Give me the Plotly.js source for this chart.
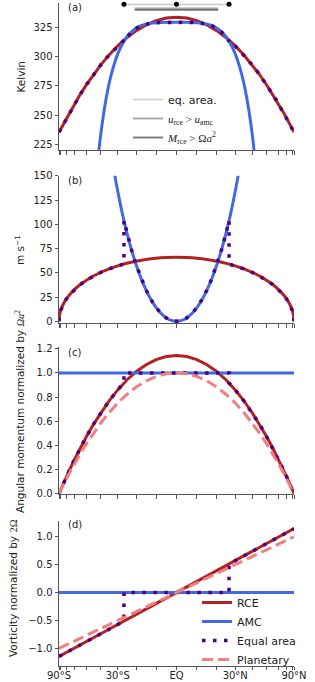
<!DOCTYPE html>
<html><head><meta charset="utf-8">
<script src="https://cdn.plot.ly/plotly-3.0.1.min.js"></script>
<style>html,body{margin:0;padding:0;background:#fff}#chart{width:315px;height:682px}</style>
</head><body><div id="chart"></div>
<script>
// ---------- data (latitudes in degrees; x axis is sin(latitude)) ----------
const latRce = [-90,-85,-80,-75,-70,-65,-60,-55,-50,-45,-40,-35,-30,-25,-20,-15,-10,-5,0,5,10,15,20,25,30,35,40,45,50,55,60,65,70,75,80,85,90];
const tempRce = [235.4,236.1,238.4,242.0,246.9,253.0,260.0,267.8,276.1,284.7,293.3,301.6,309.4,316.4,322.5,327.4,331.0,333.3,334.0,333.3,331.0,327.4,322.5,316.4,309.4,301.6,293.3,284.7,276.1,267.8,260.0,253.0,246.9,242.0,238.4,236.1,235.4];
const windRce = [0,5.8,11.5,17.1,22.6,27.9,33.0,37.9,42.4,46.7,50.6,54.1,57.2,59.8,62.0,63.8,65.0,65.7,66.0,65.7,65.0,63.8,62.0,59.8,57.2,54.1,50.6,46.7,42.4,37.9,33.0,27.9,22.6,17.1,11.5,5.8,0];
const angMomRce = [0,0.009,0.035,0.077,0.134,0.205,0.286,0.377,0.473,0.573,0.672,0.768,0.859,0.941,1.011,1.068,1.110,1.136,1.145,1.136,1.110,1.068,1.011,0.941,0.859,0.768,0.672,0.573,0.473,0.377,0.286,0.205,0.134,0.077,0.035,0.009,0];
const angMomPlanetary = [0,0.008,0.030,0.067,0.117,0.179,0.250,0.329,0.413,0.500,0.587,0.671,0.750,0.821,0.883,0.933,0.970,0.992,1.000,0.992,0.970,0.933,0.883,0.821,0.750,0.671,0.587,0.500,0.413,0.329,0.250,0.179,0.117,0.067,0.030,0.008,0];

const latAmcT = [-42,-41,-40,-37.5,-35,-32.5,-30,-27.5,-25,-22.5,-20,-17.5,-15,-12.5,-10,-5,0,5,10,12.5,15,17.5,20,22.5,25,27.5,30,32.5,35,37.5,40,41,42];
const tempAmc = [211.4,223.7,234.9,258.5,277.1,291.4,302.5,310.8,317.0,321.4,324.6,326.7,328.0,328.9,329.3,329.6,329.6,329.6,329.3,328.9,328.0,326.7,324.6,321.4,317.0,310.8,302.5,291.4,277.1,258.5,234.9,223.7,211.4];

const latAmcU = [-35,-32.5,-30,-27.5,-25,-22.5,-20,-17.5,-15,-12.5,-10,-7.5,-5,-2.5,0,2.5,5,7.5,10,12.5,15,17.5,20,22.5,25,27.5,30,32.5,35];
const windAmc = [186.5,159.0,134.1,111.6,91.5,73.6,57.8,44.0,32.2,22.3,14.2,8.0,3.5,0.9,0,0.9,3.5,8.0,14.2,22.3,32.2,44.0,57.8,73.6,91.5,111.6,134.1,159.0,186.5];

const latAmcFlat = [-90,90];
const angMomAmc = [1,1];
const vortAmc = [0,0];

const latEqT = [-90,-85,-80,-75,-70,-65,-60,-55,-50,-45,-40,-35,-30,-26.57,-26.57,-25,-22.5,-20,-17.5,-15,-12.5,-10,-5,0,5,10,12.5,15,17.5,20,22.5,25,26.57,26.57,30,35,40,45,50,55,60,65,70,75,80,85,90];
const tempEq = [235.4,236.1,238.4,242.0,246.9,253.0,260.0,267.8,276.1,284.7,293.3,301.6,309.4,314.3,313.3,317.0,321.4,324.6,326.7,328.0,328.9,329.3,329.6,329.6,329.6,329.3,328.9,328.0,326.7,324.6,321.4,317.0,313.3,314.3,309.4,301.6,293.3,284.7,276.1,267.8,260.0,253.0,246.9,242.0,238.4,236.1,235.4];

const latEqU = [-90,-85,-80,-75,-70,-65,-60,-55,-50,-45,-40,-35,-30,-26.57,-26.57,-25,-22.5,-20,-17.5,-15,-12.5,-10,-7.5,-5,-2.5,0,2.5,5,7.5,10,12.5,15,17.5,20,22.5,25,26.57,26.57,30,35,40,45,50,55,60,65,70,75,80,85,90];
const windEq = [0,5.8,11.5,17.1,22.6,27.9,33.0,37.9,42.4,46.7,50.6,54.1,57.2,59.0,103.9,91.5,73.6,57.8,44.0,32.2,22.3,14.2,8.0,3.5,0.9,0,0.9,3.5,8.0,14.2,22.3,32.2,44.0,57.8,73.6,91.5,103.9,59.0,57.2,54.1,50.6,46.7,42.4,37.9,33.0,27.9,22.6,17.1,11.5,5.8,0];

const latEqM = [-90,-85,-80,-75,-70,-65,-60,-55,-50,-45,-40,-35,-30,-26.57,-26.57,-20,-10,0,10,20,26.57,26.57,30,35,40,45,50,55,60,65,70,75,80,85,90];
const angMomEq = [0,0.009,0.035,0.077,0.134,0.205,0.286,0.377,0.473,0.573,0.672,0.768,0.859,0.916,1,1,1,1,1,1,1,0.916,0.859,0.768,0.672,0.573,0.473,0.377,0.286,0.205,0.134,0.077,0.035,0.009,0];

const latVort = [-90,-80,-70,-60,-50,-40,-30,-20,-10,0,10,20,30,40,50,60,70,80,90];
const vortRce = [-1.145,-1.128,-1.076,-0.992,-0.877,-0.736,-0.573,-0.392,-0.199,0,0.199,0.392,0.573,0.736,0.877,0.992,1.076,1.128,1.145];
const vortPlanetary = [-1.000,-0.985,-0.940,-0.866,-0.766,-0.643,-0.500,-0.342,-0.174,0,0.174,0.342,0.500,0.643,0.766,0.866,0.940,0.985,1.000];
const latEqV = [-90,-80,-70,-60,-50,-40,-30,-26.57,-26.57,-10,0,10,26.57,26.57,30,40,50,60,70,80,90];
const vortEq = [-1.145,-1.128,-1.076,-0.992,-0.877,-0.736,-0.573,-0.512,0,0,0,0,0,0.512,0.573,0.736,0.877,0.992,1.076,1.128,1.145];

// Hadley-cell extent markers above panel (a)
const markerLats = [-26.57,0,26.57];
const markerTemps = [345,345,345];
const eqAreaLats = [-26.57,26.57];
const eqAreaLevel = [345,345];
const uCrossLats = [-20.8,20.8];
const uCrossLevel = [341.6,341.6];
const mCrossLats = [-20.8,20.8];
const mCrossLevel = [340.2,340.2];

// x ticks: labelled major ticks and unlabelled minor ticks every 10 degrees
const majorTickLats = [-90,-30,0,30,90];
const majorTickLabels = ['90°S','30°S','EQ','30°N','90°N'];
const minorTickLats = [-80,-70,-60,-50,-40,-20,-10,10,20,40,50,60,70,80];

// ---------- drawing ----------
const S = d => Math.sin(d*Math.PI/180);
const X = a => a.map(S);
const C = {rce:'#b22222', amc:'#4169e1', eq:'#4b0082', pl:'#f08080'};
const DOT = '3.5px,7.5px', DASH = '11px,5px';
const FONT = 'DejaVu Sans, sans-serif';

function ln(lat, val, ax, color, opts){
  return Object.assign({type:'scatter', mode:'lines', x:X(lat), y:val, xaxis:'x'+ax, yaxis:'y'+ax,
    line:{color:color, width:3}, showlegend:false, hoverinfo:'skip'}, opts||{});
}
const data = [
  // (a)
  ln(latRce, tempRce, '', C.rce),
  ln(latAmcT, tempAmc, '', C.amc, {line:{color:C.amc,width:3,shape:'spline'}}),
  ln(latEqT, tempEq, '', C.eq, {line:{color:C.eq,width:3.5,dash:DOT}}),
  ln(eqAreaLats, eqAreaLevel, '', '#cccccc', {name:'eq. area.', showlegend:true, legend:'legend2', line:{color:'#cccccc',width:1.6}, cliponaxis:false}),
  ln(uCrossLats, uCrossLevel, '', '#a3a3a3', {name:'<span style="font-family:Liberation Serif"><i>u</i><sub>rce</sub> &gt; <i>u</i><sub>amc</sub></span>', showlegend:true, legend:'legend2', line:{color:'#a3a3a3',width:1.8}, cliponaxis:false}),
  ln(mCrossLats, mCrossLevel, '', '#737373', {name:'<span style="font-family:Liberation Serif"><i>M</i><sub>rce</sub> &gt; Ω<i>a</i><sup>2</sup></span>', showlegend:true, legend:'legend2', line:{color:'#737373',width:1.8}, cliponaxis:false}),
  {type:'scatter', mode:'markers', x:X(markerLats), y:markerTemps, xaxis:'x', yaxis:'y', marker:{color:'#000', size:5}, showlegend:false, cliponaxis:false, hoverinfo:'skip'},
  // (b)
  ln(latRce, windRce, '2', C.rce, {line:{color:C.rce,width:3,shape:'spline',smoothing:0.6}}),
  ln(latAmcU, windAmc, '2', C.amc, {line:{color:C.amc,width:3,shape:'spline'}}),
  ln(latEqU, windEq, '2', C.eq, {line:{color:C.eq,width:3.5,dash:DOT}}),
  // (c)
  ln(latRce, angMomRce, '3', C.rce),
  ln(latAmcFlat, angMomAmc, '3', C.amc),
  ln(latEqM, angMomEq, '3', C.eq, {line:{color:C.eq,width:3.5,dash:DOT}}),
  ln(latRce, angMomPlanetary, '3', C.pl, {line:{color:C.pl,width:3,dash:DASH}}),
  // (d)
  ln(latVort, vortRce, '4', C.rce, {name:'RCE', showlegend:true}),
  ln(latAmcFlat, vortAmc, '4', C.amc, {name:'AMC', showlegend:true}),
  ln(latEqV, vortEq, '4', C.eq, {name:'Equal area', showlegend:true, line:{color:C.eq,width:3.5,dash:DOT}}),
  ln(latVort, vortPlanetary, '4', C.pl, {name:'Planetary', showlegend:true, line:{color:C.pl,width:3,dash:DASH}})
];

const W = 315, H = 682;
const px = v => v/W, py = v => 1 - v/H;
const base = {showline:true, linecolor:'#555', linewidth:1, ticks:'outside', ticklen:3.5, tickwidth:1, tickcolor:'#555',
  showgrid:false, zeroline:false, automargin:false, fixedrange:true, tickfont:{family:FONT, size:10, color:'#222'}};
const xdom = [px(59), px(294)];
function xa(anchor, labels){
  return Object.assign({}, base, {domain:xdom, anchor:anchor, range:[-1,1], tickmode:'array',
    tickvals:X(majorTickLats), ticktext:majorTickLabels, showticklabels:labels, tickangle:0, ticklabelstandoff:-3,
    minor:{tickmode:'array', tickvals:X(minorTickLats), ticks:'outside', ticklen:3.5, tickwidth:1, tickcolor:'#555', showgrid:false}});
}
function ya(anchor, top, bot, range, tickvals, fmt){
  return Object.assign({}, base, {domain:[py(bot), py(top)], anchor:anchor, range:range, tickmode:'array', tickvals:tickvals, tickformat:fmt||''});
}
function ann(text, x, y, opts){
  return Object.assign({text:text, xref:'paper', yref:'paper', x:px(x), y:py(y), showarrow:false,
    font:{family:FONT, size:10, color:'#222'}, xanchor:'left', yanchor:'middle'}, opts||{});
}
const ylab = {font:{family:FONT, size:10.5, color:'#222'}, xanchor:'center', yanchor:'middle', textangle:-90};

const layout = {
  width:W, height:H, margin:{l:0,r:0,t:0,b:0}, paper_bgcolor:'#fff', plot_bgcolor:'#fff',
  xaxis: xa('y', false), xaxis2: xa('y2', false), xaxis3: xa('y3', false), xaxis4: xa('y4', true),
  yaxis: ya('x', 3.3, 150, [220.1,345.9], [225,250,275,300,325]),
  yaxis2: ya('x2', 175.7, 323, [-1.75,150.2], [0,25,50,75,100,125,150]),
  yaxis3: ya('x3', 346.7, 494, [-0.004,1.217], [0,0.2,0.4,0.6,0.8,1.0,1.2], '.1f'),
  yaxis4: ya('x4', 520.7, 665.7, [-1.31,1.287], [-1,-0.5,0,0.5,1], '.1f'),
  legend: {x:px(197), xanchor:'left', y:py(588), yanchor:'top', bgcolor:'rgba(0,0,0,0)', borderwidth:0,
    font:{family:FONT, size:11, color:'#222'}, itemwidth:30, traceorder:'normal'},
  legend2: {x:px(128), xanchor:'left', y:py(85), yanchor:'top', bgcolor:'rgba(0,0,0,0)', borderwidth:0,
    font:{family:FONT, size:11, color:'#222'}, itemwidth:30, traceorder:'normal'},
  annotations: [
    ann('(a)', 66, 8), ann('(b)', 66, 180.5), ann('(c)', 66, 352.2), ann('(d)', 66, 524.8),
    Object.assign(ann('Kelvin', 20.5, 77), ylab),
    Object.assign(ann('m s<sup>−1</sup>', 19, 250), ylab),
    Object.assign(ann('Angular momentum normalized by <span style="font-family:Liberation Serif"><i>Ωa</i><sup>2</sup></span>', 19, 412), ylab),
    Object.assign(ann('Vorticity normalized by <span style="font-family:Liberation Serif">2Ω</span>', 13, 588), ylab)
  ]
};
Plotly.newPlot('chart', data, layout, {staticPlot:true, displayModeBar:false});
</script></body></html>
